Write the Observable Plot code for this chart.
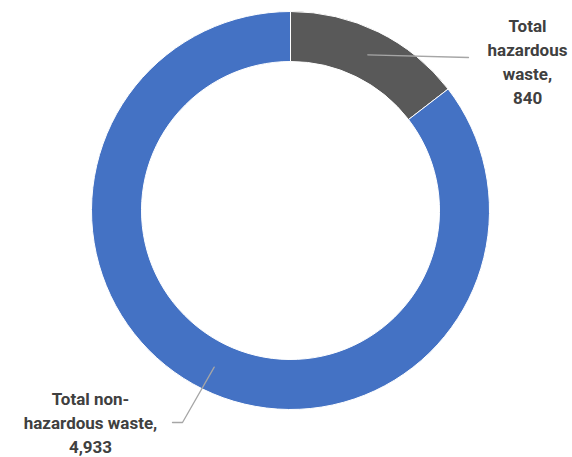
<!DOCTYPE html>
<html><head><meta charset="utf-8">
<script src="https://cdn.jsdelivr.net/npm/d3@7"></script>
<script src="https://cdn.jsdelivr.net/npm/@observablehq/plot@0.6"></script>
<style>body{margin:0;background:#fff}</style>
</head><body><div id="chart"></div>
<script>
const categories = ["Total hazardous waste", "Total non-hazardous waste"];
const values = [840, 4933];
const labels = ["Total\nhazardous\nwaste,\n840", "Total non-\nhazardous waste,\n4,933"];
const colors = ["#595959", "#4472C4"];

const W = 572, H = 457, cx = 290.5, cy = 210.5, R = 199, r = 149, rLead = 174;
const rows = categories.map((c, i) => ({category: c, value: values[i], label: labels[i], color: colors[i]}));
const arcs = d3.pie().sort(null).value(d => d.value)(rows);
const mid = a => (a.startAngle + a.endAngle) / 2;
const polar = (ang, rad) => [rad * Math.sin(ang), -rad * Math.cos(ang)];

// label anchor positions (pixels relative to donut centre)
const labelPos = [[527 - cx, 60 - cy], [90 - cx, 421 - cy]];
const leaderEnds = [
  [[468 - cx, 57 - cy]],
  [[182 - cx, 422 - cy], [172 - cx, 422 - cy]]
];
const leaders = arcs.flatMap((a, i) => {
  const [sx, sy] = polar(mid(a), rLead);
  return [{x: sx, y: sy, k: i}, ...leaderEnds[i].map(([x, y]) => ({x, y, k: i}))];
});
const textRows = rows.map((d, i) => ({...d, x: labelPos[i][0], y: labelPos[i][1]}));

function donut(index, {x, y}) {
  const g = d3.create("svg:g").attr("transform", `translate(${x(0)},${y(0)})`);
  const arc = d3.arc().innerRadius(r).outerRadius(R);
  g.selectAll("path").data(arcs).join("path")
    .attr("d", arc)
    .attr("fill", d => d.data.color)
    .attr("stroke", "#fff")
    .attr("stroke-width", 1);
  return g.node();
}

const chart = Plot.plot({
  width: W, height: H,
  margin: 0,
  x: {domain: [-cx, W - cx], range: [0, W], axis: null},
  y: {domain: [-cy, H - cy], range: [0, H], axis: null},
  style: {background: "#fff"},
  marks: [
    donut,
    Plot.line(leaders, {x: "x", y: "y", z: "k", stroke: "#A6A6A6", strokeWidth: 1.3}),
    Plot.text(textRows, {
      x: "x", y: "y", text: "label",
      fontSize: 17, fontWeight: "bold", fill: "#404040",
      lineHeight: 1.4, lineAnchor: "middle", textAnchor: "middle",
      fontFamily: "Roboto, sans-serif"
    })
  ]
});
document.getElementById("chart").append(chart);
</script>
</body></html>
